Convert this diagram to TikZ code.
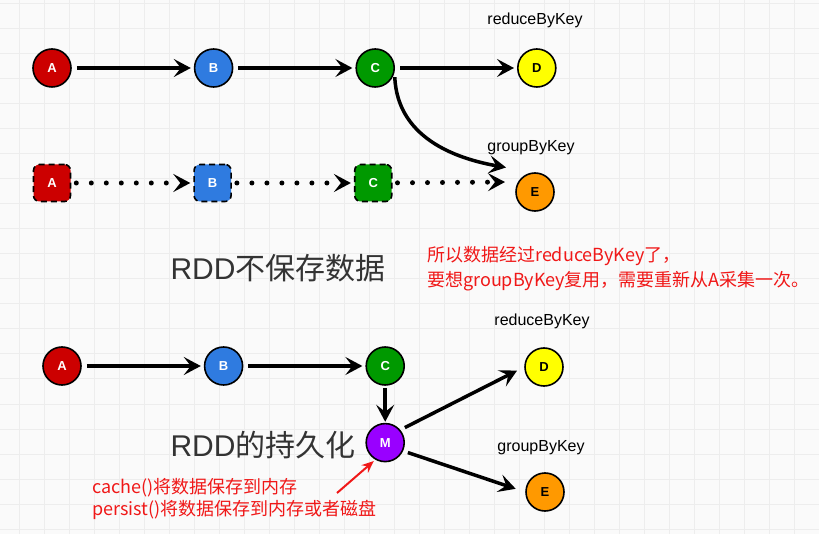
\documentclass[tikz,border=0pt]{standalone}
\usepackage{fontspec}
\setmainfont{Liberation Sans}
\newfontfamily\cjk{Noto Sans CJK SC}
\usetikzlibrary{arrows.meta,positioning}

\definecolor{rddA}{HTML}{CC0000}
\definecolor{rddB}{HTML}{2F7BE0}
\definecolor{rddC}{HTML}{009900}
\definecolor{rddD}{HTML}{FFFF00}
\definecolor{rddE}{HTML}{FF9900}
\definecolor{rddM}{HTML}{9900FF}
\definecolor{notered}{HTML}{F01818}

\begin{document}
\begin{tikzpicture}[
  x=1pt, y=-1pt,
  node distance=122pt,
  rdd/.style={circle, draw, line width=1.6pt, minimum size=38pt, inner sep=0pt,
    font=\fontsize{13}{13}\selectfont\bfseries, text=white},
  lost/.style={rectangle, rounded corners=6pt, draw, dash pattern=on 6pt off 4pt,
    line width=1.6pt, minimum size=37pt, inner sep=0pt,
    font=\fontsize{13}{13}\selectfont\bfseries, text=white},
  line/.style={-{Stealth[length=17pt,width=18pt,inset=7pt]}, line width=3.5pt,
    shorten <=5pt, shorten >=3pt},
  dots/.style={line, dash pattern=on 0pt off 15pt, line cap=round, line width=5pt},
  op/.style={font=\fontsize{16}{16}\selectfont},
  title/.style={font=\cjk\fontsize{30}{30}\selectfont, text=black!80},
  note/.style={font=\cjk\fontsize{18}{25}\selectfont, text=notered, align=left, inner sep=0pt},
  hintline/.style={-{Stealth[length=12pt,width=10pt]}, line width=2pt, draw=notered}
]
\useasboundingbox (0,0) rectangle (819,534);
\fill[black!2] (0,0) rectangle (819,534);
% grid
\foreach \gx in {19,44,...,819} \draw[black!7, line width=1pt] (\gx,0) -- (\gx,534);
\foreach \gy in {4,29,...,534} \draw[black!7, line width=1pt] (0,\gy) -- (819,\gy);

% RDD is not kept
\node[rdd, fill=rddA] (A1) at (52,68) {A};
\node[rdd, fill=rddB, right=of A1] (B1) {B};
\node[rdd, fill=rddC, right=of B1] (C1) {C};
\node[rdd, fill=rddD, text=black, right=of C1] (D1) {D};
\node[op] (reduce1) at (535,20) {reduceByKey};

\node[lost, fill=rddA] (A2) at (52,183) {A};
\node[lost, fill=rddB, right=of A2] (B2) {B};
\node[lost, fill=rddC, right=of B2] (C2) {C};
\node[rdd, fill=rddE, text=black] (E2) at (535,192) {E};
\node[op] (group1) at (531,148) {groupByKey};
\coordinate (e2a) at ([shift={(-26,-24)}]E2.center);
\coordinate (e2b) at ([shift={(-27,-10)}]E2.center);

\draw[line] (A1) -- (B1);
\draw[line] (B1) -- (C1);
\draw[line] (C1) -- (D1);
\draw[line] (C1.-12) .. controls +(3,70) and +(-45,-8) .. (e2a);
\draw[dots] (A2) -- (B2);
\draw[dots] (B2) -- (C2);
\draw[dots] (C2) -- (e2b);

\node[title] (lostTitle) at (278,268) {{\rmfamily RDD}不保存数据};
\node[note, anchor=west] (lostNote) at (427,268.5)
  {所以数据经过reduceByKey了，\\要想groupByKey复用，需要重新从A采集一次。};

% RDD persistence
\node[rdd, fill=rddA] (A3) at (62,366) {A};
\node[rdd, fill=rddB, right=of A3] (B3) {B};
\node[rdd, fill=rddC, right=of B3] (C3) {C};
\node[rdd, fill=rddM, below=37pt of C3] (M) {M};
\node[rdd, fill=rddD, text=black] (D3) at (544,367) {D};
\node[rdd, fill=rddE, text=black] (E3) at (545,492) {E};
\node[op] (reduce2) at (542,321) {reduceByKey};
\node[op] (group2) at (541,448) {groupByKey};

\draw[line] (A3) -- (B3);
\draw[line] (B3) -- (C3);
\draw[line, shorten <=2pt, shorten >=1pt] (C3) -- (M);
\draw[line, shorten >=8pt] (M.40) -- (D3.west);
\draw[line, shorten >=10pt] (M.-25) -- (E3.west);

\node[title] (keepTitle) at (263,445) {{\rmfamily RDD}的持久化};
\node[note, anchor=north west, font=\cjk\fontsize{18}{22}\selectfont] (keepNote) at (92,478)
  {cache()将数据保存到内存\\persist()将数据保存到内存或者磁盘};
\coordinate (hint) at (337,493);
\draw[hintline, shorten >=2pt] (hint) -- (M.-120);
\end{tikzpicture}
\end{document}
